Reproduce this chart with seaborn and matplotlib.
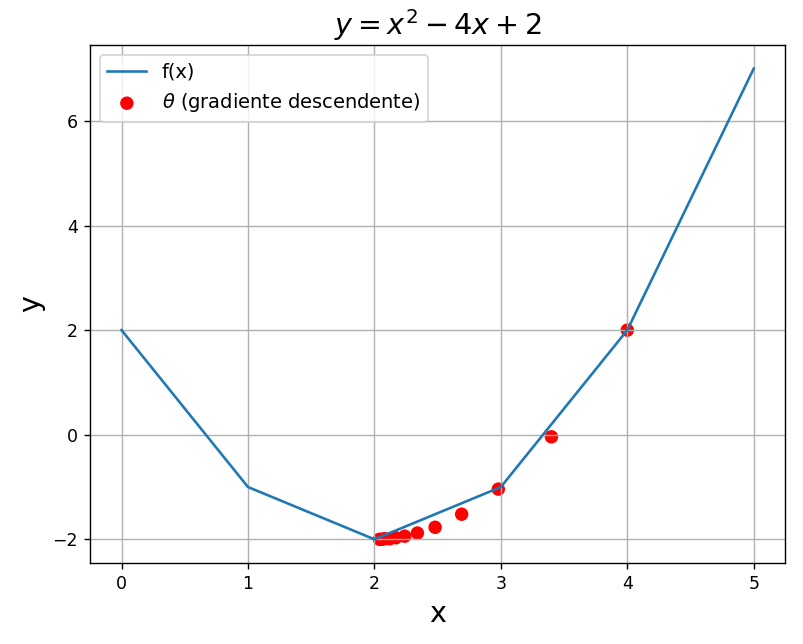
import numpy as np
import pandas as pd
import matplotlib
matplotlib.use("Agg")
import matplotlib.pyplot as plt
import seaborn as sns

# f(x) sampled at integer points
x_vals = [0, 1, 2, 3, 4, 5]
y_vals = [2, -1, -2, -1, 2, 7]

# gradient descent iterates
theta_x = [4.0, 3.4, 2.98, 2.69, 2.48, 2.34, 2.24, 2.17, 2.12, 2.08, 2.06, 2.04]
theta_y = [2.0, -0.04, -1.04, -1.52, -1.77, -1.88, -1.94, -1.97, -1.99, -1.99, -2.0, -2.0]

curve = pd.DataFrame({"x": x_vals, "y": y_vals})
steps = pd.DataFrame({"x": theta_x, "y": theta_y})

fig, ax = plt.subplots(figsize=(803 / 125, 644 / 125), dpi=125)
sns.lineplot(data=curve, x="x", y="y", ax=ax, color="C0", label="f(x)")
sns.scatterplot(data=steps, x="x", y="y", ax=ax, color="red", s=60,
                edgecolor="none", label=r"$\theta$ (gradiente descendente)")

ax.set_title(r"$y = x^2 - 4x + 2$", fontsize=16.5)
ax.set_xlabel("x", fontsize=16.5)
ax.set_ylabel("y", fontsize=16.5)
ax.grid(True)
ax.legend(loc="upper left", fontsize=11.2)
fig.subplots_adjust(left=0.112, right=0.978, top=0.930, bottom=0.126)
fig.savefig("out.png", dpi=125)
